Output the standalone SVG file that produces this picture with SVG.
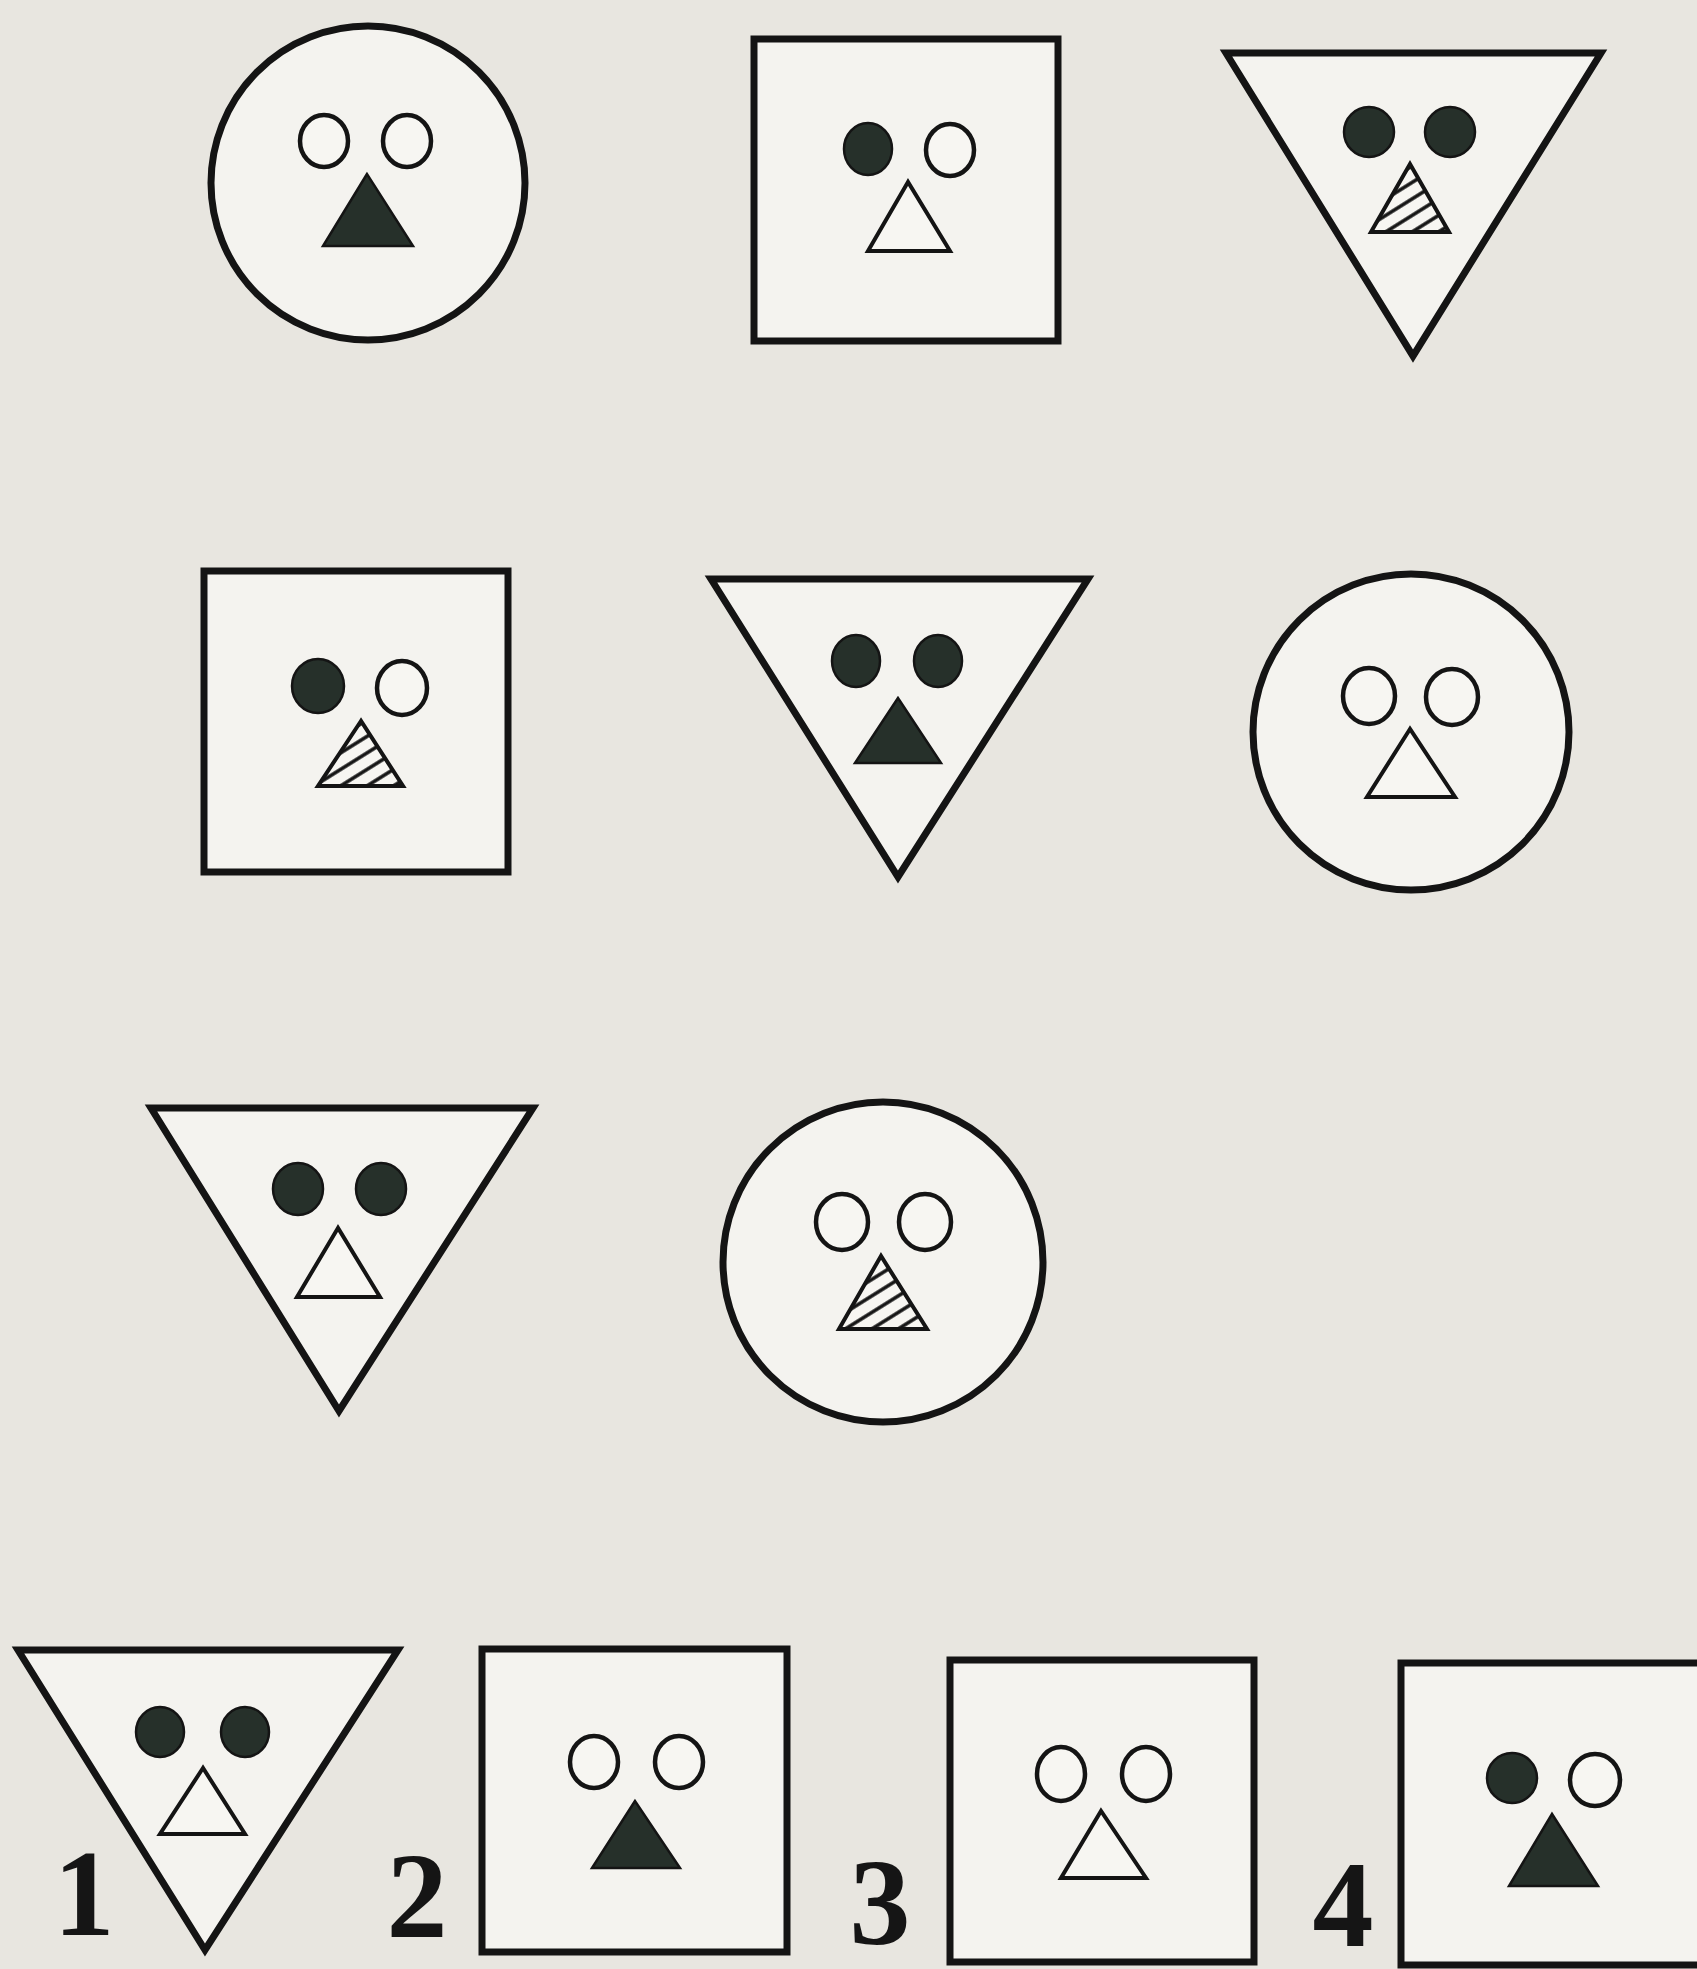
<svg xmlns="http://www.w3.org/2000/svg" width="1697" height="1969" viewBox="0 0 1697 1969">
<style>
.frame{fill:#f4f3ef;stroke:#141414;stroke-width:7;stroke-linejoin:miter}
.eo{fill:#f7f6f2;stroke:#141414;stroke-width:4.5}
.ef{fill:#26302a;stroke:#141414;stroke-width:2.5}
.to{fill:#f7f6f2;stroke:#141414;stroke-width:4;stroke-linejoin:miter}
.tf{fill:#26302a;stroke:#141414;stroke-width:2.5}
.th{fill:url(#hatch);stroke:#141414;stroke-width:4}
.lbl{font-family:"Liberation Serif","Times New Roman",serif;font-weight:bold;font-size:122px;fill:#151515;text-anchor:middle}
</style>
<defs>
<pattern id="hatch" patternUnits="userSpaceOnUse" width="14" height="14" patternTransform="rotate(-32)">
<rect width="14" height="14" fill="#f7f6f2"/>
<line x1="0" y1="7" x2="14" y2="7" stroke="#141414" stroke-width="3.5"/>
</pattern>
</defs>
<rect width="1697" height="1969" fill="#e8e6e0"/>

<g id="f1">
<circle class="frame" cx="368" cy="183" r="157"/>
<ellipse class="eo" cx="324" cy="141" rx="24" ry="26"/>
<ellipse class="eo" cx="407" cy="141" rx="24" ry="26"/>
<polygon class="tf" points="367,174 323,246 413,246"/>
</g>

<g id="f2">
<rect class="frame" x="754" y="39" width="304" height="302"/>
<ellipse class="ef" cx="868" cy="149" rx="24" ry="26"/>
<ellipse class="eo" cx="950" cy="150" rx="24" ry="26"/>
<polygon class="to" points="908,182 868,251 950,251"/>
</g>

<g id="f3">
<polygon class="frame" points="1226,53 1601,53 1413,356"/>
<ellipse class="ef" cx="1369" cy="132" rx="25" ry="25"/>
<ellipse class="ef" cx="1450" cy="132" rx="25" ry="25"/>
<polygon class="th" points="1410,164 1371,232 1449,232"/>
</g>

<g id="f4">
<rect class="frame" x="204" y="571" width="304" height="301"/>
<ellipse class="ef" cx="318" cy="686" rx="26" ry="27"/>
<ellipse class="eo" cx="402" cy="688" rx="25" ry="27"/>
<polygon class="th" points="361,721 318,786 403,786"/>
</g>

<g id="f5">
<polygon class="frame" points="711,579 1088,579 898,877"/>
<ellipse class="ef" cx="856" cy="661" rx="24" ry="26"/>
<ellipse class="ef" cx="938" cy="661" rx="24" ry="26"/>
<polygon class="tf" points="898,698 855,763 941,763"/>
</g>

<g id="f6">
<circle class="frame" cx="1411" cy="732" r="158"/>
<ellipse class="eo" cx="1369" cy="696" rx="26" ry="28"/>
<ellipse class="eo" cx="1452" cy="697" rx="26" ry="28"/>
<polygon class="to" points="1410,729 1367,797 1455,797"/>
</g>

<g id="f7">
<polygon class="frame" points="151,1108 533,1108 339,1411"/>
<ellipse class="ef" cx="298" cy="1189" rx="25" ry="26"/>
<ellipse class="ef" cx="381" cy="1189" rx="25" ry="26"/>
<polygon class="to" points="338,1228 297,1297 380,1297"/>
</g>

<g id="f8">
<circle class="frame" cx="883" cy="1262" r="160"/>
<ellipse class="eo" cx="842" cy="1222" rx="26" ry="28"/>
<ellipse class="eo" cx="925" cy="1222" rx="26" ry="28"/>
<polygon class="th" points="881,1256 839,1329 927,1329"/>
</g>

<g id="a1">
<polygon class="frame" points="18,1650 398,1650 205,1950"/>
<ellipse class="ef" cx="160" cy="1732" rx="24" ry="25"/>
<ellipse class="ef" cx="245" cy="1732" rx="24" ry="25"/>
<polygon class="to" points="203,1768 160,1834 245,1834"/>
<text class="lbl" x="84" y="1935">1</text>
</g>

<g id="a2">
<rect class="frame" x="482" y="1649" width="305" height="303"/>
<ellipse class="eo" cx="594" cy="1762" rx="24" ry="26"/>
<ellipse class="eo" cx="679" cy="1762" rx="24" ry="26"/>
<polygon class="tf" points="635,1801 592,1868 680,1868"/>
<text class="lbl" x="417" y="1937">2</text>
</g>

<g id="a3">
<rect class="frame" x="950" y="1660" width="304" height="302"/>
<ellipse class="eo" cx="1061" cy="1774" rx="24" ry="27"/>
<ellipse class="eo" cx="1146" cy="1774" rx="24" ry="27"/>
<polygon class="to" points="1101,1811 1061,1878 1146,1878"/>
<text class="lbl" x="880" y="1944">3</text>
</g>

<g id="a4">
<rect class="frame" x="1401" y="1663" width="306" height="302"/>
<ellipse class="ef" cx="1512" cy="1778" rx="25" ry="25"/>
<ellipse class="eo" cx="1595" cy="1780" rx="25" ry="26"/>
<polygon class="tf" points="1552,1814 1509,1886 1598,1886"/>
<text class="lbl" x="1343" y="1946">4</text>
</g>

<g id="connectors"></g>
</svg>
